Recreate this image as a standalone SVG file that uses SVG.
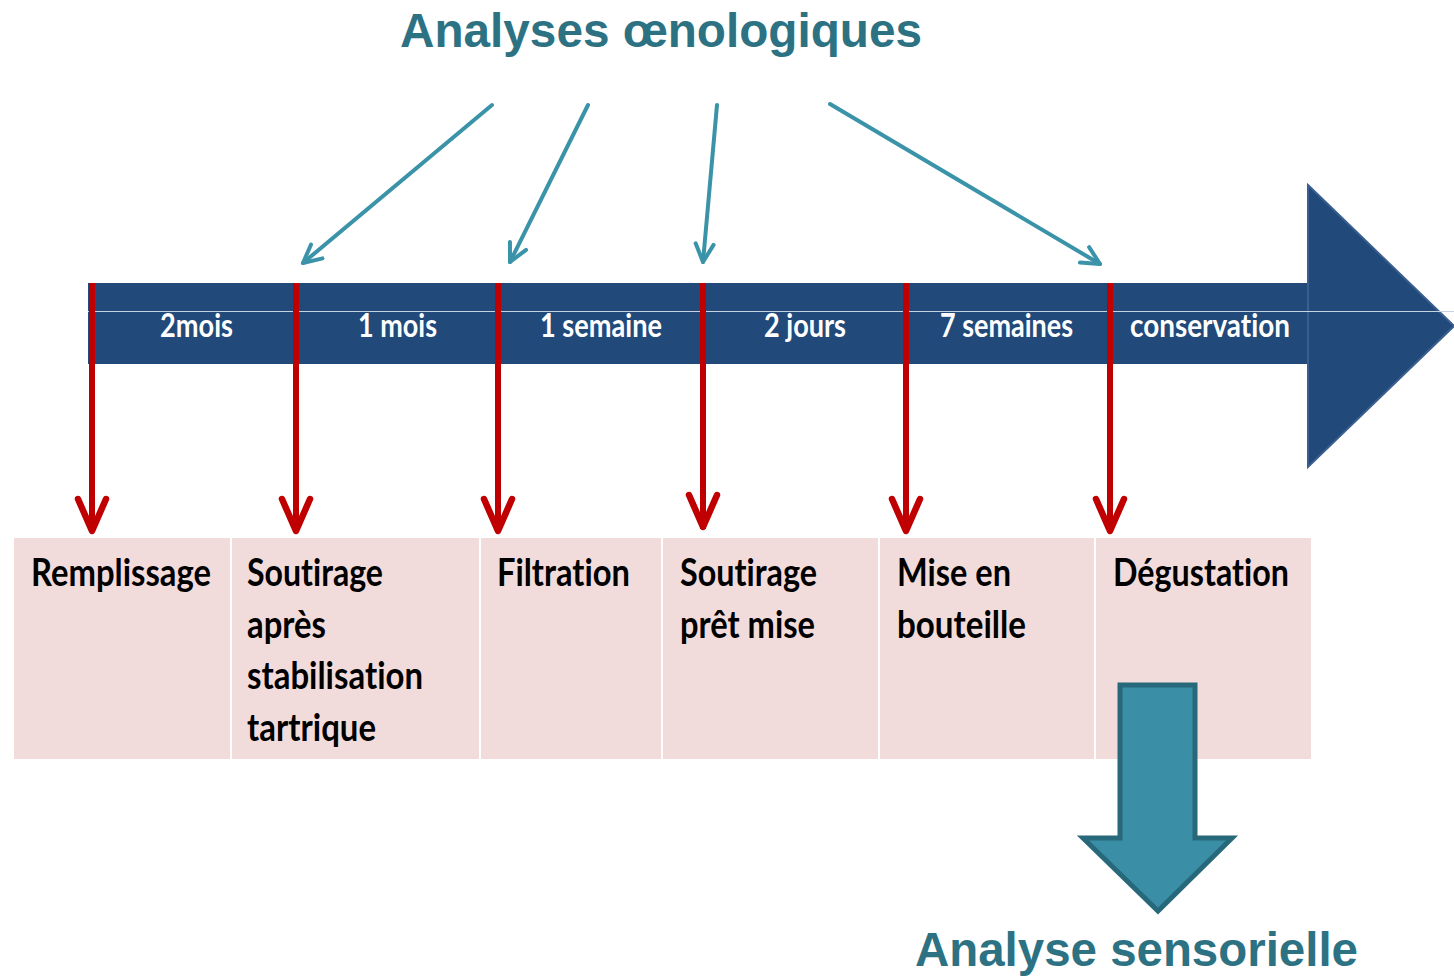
<svg xmlns="http://www.w3.org/2000/svg" width="1454" height="976" viewBox="0 0 1454 976">
<defs>
<style>
.title{font-family:"Liberation Sans",Arial,sans-serif;font-weight:bold;font-size:47.5px;fill:#2d7283}
.lbl{font-family:Lato,"Liberation Sans",sans-serif;font-weight:bold;font-size:33px;fill:#ffffff;font-variant-ligatures:none;font-feature-settings:"liga" 0,"clig" 0,"dlig" 0,"hlig" 0}
.box{font-family:Lato,"Liberation Sans",sans-serif;font-weight:bold;font-size:38px;fill:#000000;font-variant-ligatures:none;font-feature-settings:"liga" 0,"clig" 0,"dlig" 0,"hlig" 0}
.red{stroke:#c00000;stroke-width:6;fill:none}
.redhead{stroke:#c00000;stroke-width:6.5;fill:none;stroke-linecap:round;stroke-linejoin:round}
.teal{stroke:#3a93a8;stroke-width:4;fill:none;stroke-linecap:round}
</style>
<marker id="th" viewBox="0 0 24 24" refX="20" refY="12" markerWidth="24" markerHeight="24" markerUnits="userSpaceOnUse" orient="auto">
<path d="M2,3 L20,12 L2,21" stroke="#3a93a8" stroke-width="4" fill="none" stroke-linecap="round" stroke-linejoin="round"/>
</marker>
</defs>
<rect width="1454" height="976" fill="#ffffff"/>

<g id="title"><text class="title" x="400" y="47" textLength="522" lengthAdjust="spacingAndGlyphs">Analyses œnologiques</text></g>

<g id="timeline">
<rect x="88" y="283" width="1221" height="81" fill="#214a7b"/>
<polygon points="1308,185 1454,326 1308,467" fill="#214a7b" stroke="#3a5f8f" stroke-width="2"/>
<line x1="88" y1="311.5" x2="1454" y2="311.5" stroke="#c8d3e2" stroke-width="1"/>
<text class="lbl" x="160" y="337" textLength="73" lengthAdjust="spacingAndGlyphs">2mois</text>
<text class="lbl" x="358" y="337" textLength="79" lengthAdjust="spacingAndGlyphs">1 mois</text>
<text class="lbl" x="540" y="337" textLength="122" lengthAdjust="spacingAndGlyphs">1 semaine</text>
<text class="lbl" x="764" y="337" textLength="82" lengthAdjust="spacingAndGlyphs">2 jours</text>
<text class="lbl" x="940" y="337" textLength="133" lengthAdjust="spacingAndGlyphs">7 semaines</text>
<text class="lbl" x="1130" y="337" textLength="160" lengthAdjust="spacingAndGlyphs">conservation</text>
</g>

<g id="steps">
<rect x="14" y="538" width="1297" height="221" fill="#f2dcdb"/>
<g stroke="#ffffff" stroke-width="2">
<line x1="231" y1="538" x2="231" y2="759"/>
<line x1="480" y1="538" x2="480" y2="759"/>
<line x1="662" y1="538" x2="662" y2="759"/>
<line x1="879" y1="538" x2="879" y2="759"/>
<line x1="1095" y1="538" x2="1095" y2="759"/>
</g>
</g>
<g id="step-remplissage"><text class="box" x="31" y="586" textLength="180" lengthAdjust="spacingAndGlyphs">Remplissage</text></g>
<g id="step-soutirage1">
<text class="box" x="247" y="586" textLength="136" lengthAdjust="spacingAndGlyphs">Soutirage</text>
<text class="box" x="247" y="638" textLength="79" lengthAdjust="spacingAndGlyphs">après</text>
<text class="box" x="247" y="689" textLength="176" lengthAdjust="spacingAndGlyphs">stabilisation</text>
<text class="box" x="247" y="741" textLength="129" lengthAdjust="spacingAndGlyphs">tartrique</text>
</g>
<g id="step-filtration"><text class="box" x="497" y="586" textLength="133" lengthAdjust="spacingAndGlyphs">Filtration</text></g>
<g id="step-soutirage2">
<text class="box" x="680" y="586" textLength="137" lengthAdjust="spacingAndGlyphs">Soutirage</text>
<text class="box" x="680" y="638" textLength="135" lengthAdjust="spacingAndGlyphs">prêt mise</text>
</g>
<g id="step-mise">
<text class="box" x="897" y="586" textLength="114" lengthAdjust="spacingAndGlyphs">Mise en</text>
<text class="box" x="897" y="638" textLength="129" lengthAdjust="spacingAndGlyphs">bouteille</text>
</g>
<g id="step-degustation"><text class="box" x="1113" y="586" textLength="176" lengthAdjust="spacingAndGlyphs">Dégustation</text></g>

<g id="connectors">
<g class="red">
<line x1="92" y1="283" x2="92" y2="532"/>
<line x1="296" y1="283" x2="296" y2="532"/>
<line x1="498" y1="283" x2="498" y2="532"/>
<line x1="703" y1="283" x2="703" y2="529"/>
<line x1="906" y1="283" x2="906" y2="532"/>
<line x1="1110" y1="283" x2="1110" y2="532"/>
</g>
<g class="redhead">
<polyline points="78,499 92,531 106,499"/>
<polyline points="282,499 296,531 310,499"/>
<polyline points="484,499 498,531 512,499"/>
<polyline points="689,495 703,527 717,495"/>
<polyline points="892,499 906,531 920,499"/>
<polyline points="1096,499 1110,531 1124,499"/>
</g>
<g class="teal">
<line x1="492" y1="105" x2="303" y2="263" marker-end="url(#th)"/>
<line x1="588" y1="105" x2="510" y2="262" marker-end="url(#th)"/>
<line x1="717" y1="105" x2="703" y2="262" marker-end="url(#th)"/>
<line x1="830" y1="104" x2="1100" y2="264" marker-end="url(#th)"/>
</g>
</g>

<g id="sensory-arrow">
<polygon points="1120,685 1195,685 1195,838 1232,838 1158,911 1083,838 1120,838" fill="#3a8fa6" stroke="#27687b" stroke-width="5" stroke-linejoin="miter"/>
</g>
<g id="sensory-label"><text class="title" x="915" y="966" textLength="443" lengthAdjust="spacingAndGlyphs">Analyse sensorielle</text></g>
</svg>
